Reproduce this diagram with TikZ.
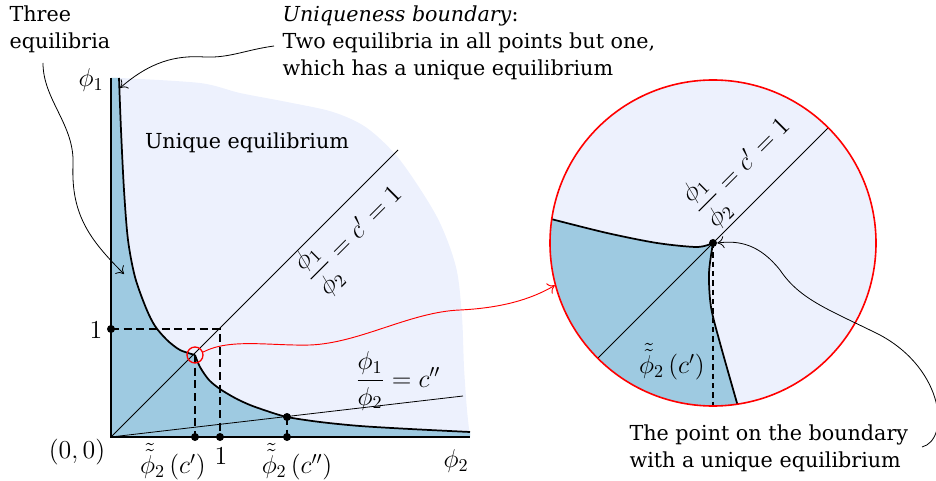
\RequirePackage{fix-cm}
\documentclass[tikz,border=0pt]{standalone}
\usepackage{amsmath}
\usepackage{fontspec}
\setmainfont{DejaVu Serif}
\usetikzlibrary{arrows.meta}
\definecolor{darkfill}{RGB}{158,202,225}
\definecolor{lightfill}{RGB}{237,241,253}
\tikzset{
  thinline/.style={line width=0.6pt},
  thickline/.style={line width=1.3pt},
  dashline/.style={line width=1pt, dash pattern=on 6pt off 3.5pt},
  dotmark/.style={circle, fill=black, inner sep=0pt, minimum size=6pt},
  callout/.style={-{To[length=5pt,width=9pt]}, line width=0.6pt},
  redcallout/.style={-{To[length=5pt,width=9pt]}, line width=0.7pt, red},
  lbl/.style={inner sep=1pt},
  mlbl/.style={inner sep=0pt, font=\fontsize{15.5}{20}\selectfont, scale=1.25},
}
\begin{document}
\begin{tikzpicture}[x=0.75pt,y=-0.75pt,font=\fontsize{15.5}{20.25}\selectfont]
\useasboundingbox (0,0) rectangle (936,481);
% ---------- main diagram ----------
\coordinate (O) at (111,437);
\coordinate (Ytop) at (111,78);
\coordinate (Xend) at (470,437);
\fill[lightfill] (Ytop) -- plot[smooth] coordinates {(120,78) (200,83) (240,93) (287,102) (333,112) (367,128) (400,160) (437,217) (456,267) (462,317) (464,367) (467,410) (470,437)} -- (O) -- cycle;
\fill[darkfill] (Ytop) -- plot[smooth] coordinates {(119,78) (121,130) (124,190) (128,240) (135,277) (146,308) (155,326) (167,340) (180,350) (195,355)}
  -- plot[smooth] coordinates {(195,355) (200,367) (209,380) (220,389) (235,398) (250,405) (267,411) (287,417) (320,422) (360,426) (410,429) (470,432)} -- (Xend) -- (O) -- cycle;
\draw[thinline] (O) -- (398,150) coordinate (Dend);
\draw[thinline] (O) -- (463,396) coordinate (Cend);
\draw[thickline] plot[smooth] coordinates {(119,78) (121,130) (124,190) (128,240) (135,277) (146,308) (155,326) (167,340) (180,350) (195,355)};
\draw[thickline] plot[smooth] coordinates {(195,355) (200,367) (209,380) (220,389) (235,398) (250,405) (267,411) (287,417) (320,422) (360,426) (410,429) (470,432)};
\draw[thickline] (Ytop) -- (O) -- (Xend);
\coordinate (Y1) at (111,329);
\coordinate (P11) at (220,329);
\coordinate (X1) at (220,437);
\coordinate (Cusp) at (195,355);
\coordinate (Xc1) at (195,437);
\coordinate (Pc2) at (287,417);
\coordinate (Xc2) at (287,437);
\draw[dashline] (Y1) -- (P11) -- (X1);
\draw[dashline] (Cusp) -- (Xc1);
\draw[dashline] (Pc2) -- (Xc2);
\foreach \p in {Y1,X1,Xc1,Xc2,Pc2} \node[dotmark] at (\p) {};
\node (cuspmark) [circle, draw=red, line width=1pt, minimum size=12pt, inner sep=0pt] at (Cusp) {};
% labels
\node[mlbl] (phi1) at (91,80) {$\phi_1$};
\node[mlbl] (phi2) at (456,461) {$\phi_2$};
\node[mlbl] (orig) at (77,452) {$(0,0)$};
\node[mlbl] (one1) at (96,330) {$1$};
\node[mlbl] (one2) at (221,456) {$1$};
\node[mlbl] (tc1) at (173,462) {$\tilde{\tilde{\phi}}_2\left(c'\right)$};
\node[mlbl] (tc2) at (297,462) {$\tilde{\tilde{\phi}}_2\left(c''\right)$};
\node[mlbl] (cpp) at (398,381) {$\dfrac{\phi_1}{\phi_2}=c''$};
\node[mlbl, rotate=45] (cpr) at (354,236) {$\dfrac{\phi_1}{\phi_2}=c'=1$};
\node[lbl] (uniq) at (247,143) {Unique equilibrium};
\node[lbl, anchor=north west, align=left] (three) at (8,4) {Three\\equilibria};
\node[lbl, anchor=north west, align=left] (bound) at (281,4) {\textit{Uniqueness boundary}:\\Two equilibria in all points but one,\\which has a unique equilibrium};
\node[lbl, anchor=north west, align=left] (pt) at (628,423) {The point on the boundary\\with a unique equilibrium};
% callouts
\coordinate (threeS) at (43,63);
\coordinate (threeT) at (124,274);
\draw[callout] (threeS) .. controls (43,100) and (75,125) .. (73,165) .. controls (71,215) and (90,240) .. (threeT);
\coordinate (boundS) at (274,46);
\coordinate (boundT) at (120,88);
\draw[callout] (boundS) .. controls (245,50) and (230,58) .. (205,57) .. controls (175,55) and (150,62) .. (boundT);
% ---------- zoom ----------
\coordinate (Z) at (713,243);
\begin{scope}
\clip (Z) circle[radius=163];
\fill[lightfill] (Z) circle[radius=163];
\fill[darkfill] (540,216) -- plot[smooth] coordinates {(551,219) (607,233) (657,243) (697,247) (713,243)}
  -- plot[smooth] coordinates {(713,243) (709,273) (711,307) (720,343) (737,403) (742,420)} -- (540,420) -- cycle;
\draw[thickline] plot[smooth] coordinates {(540,216) (551,219) (607,233) (657,243) (697,247) (713,243)};
\draw[thickline] plot[smooth] coordinates {(713,243) (709,273) (711,307) (720,343) (737,403) (742,420)};
\draw[thinline] (560,396) -- (870,86);
\draw[dashline, line width=0.8pt, dash pattern=on 4pt off 3pt] (Z) -- (713,410);
\end{scope}
\node (zoomc) [circle, draw=red, line width=1.2pt, minimum size=244.5pt, inner sep=0pt] at (Z) {};
\node[dotmark] (zdot) at (Z) {};
\node[mlbl] (ztc) at (672,362) {$\tilde{\tilde{\phi}}_2\left(c'\right)$};
\node[mlbl, rotate=45] (zcpr) at (742,168) {$\dfrac{\phi_1}{\phi_2}=c'=1$};
\draw[redcallout] (cuspmark.20) .. controls (230,338) and (270,346) .. (310,345) .. controls (360,343) and (410,312) .. (460,310) .. controls (500,308) and (530,300) .. (zoomc.195);
\coordinate (ptS) at (922,447);
\draw[callout] (ptS) .. controls (950,440) and (945,370) .. (880,335) .. controls (830,310) and (800,300) .. (780,270) .. controls (760,245) and (740,240) .. (zdot.east);
\end{tikzpicture}
\end{document}
